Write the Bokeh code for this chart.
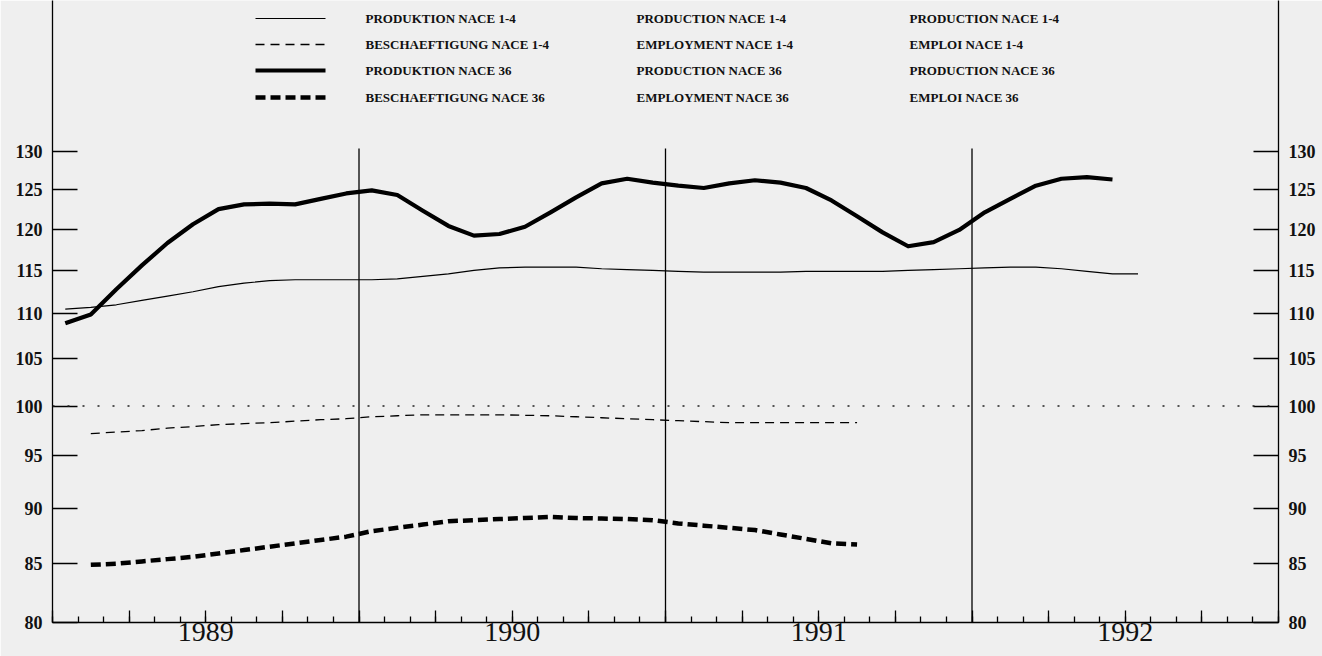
import math
from bokeh.plotting import figure
from bokeh.models import Range1d, LogAxis, FixedTicker, CustomJSTickFormatter, PrintfTickFormatter, Span
from bokeh.core.properties import value
from bokeh.embed import file_html
from bokeh.resources import INLINE

# ---------------- data (monthly index values) ----------------
prod14_start = (1989, 1)   # PRODUKTION NACE 1-4
prod14 = [110.5, 110.7, 111.0, 111.5, 112.0, 112.5, 113.1, 113.5, 113.8, 113.9, 113.9, 113.9,
          113.9, 114.0, 114.3, 114.6, 115.0, 115.3, 115.4, 115.4, 115.4, 115.2, 115.1, 115.0,
          114.9, 114.8, 114.8, 114.8, 114.8, 114.9, 114.9, 114.9, 114.9, 115.0, 115.1, 115.2,
          115.3, 115.4, 115.4, 115.2, 114.9, 114.6, 114.6]

prod36_start = (1989, 1)   # PRODUKTION NACE 36
prod36 = [108.9, 109.9, 112.8, 115.6, 118.3, 120.6, 122.5, 123.1, 123.2, 123.1, 123.8, 124.5,
          124.9, 124.3, 122.3, 120.4, 119.2, 119.4, 120.3, 122.1, 124.0, 125.8, 126.4, 125.9,
          125.5, 125.2, 125.8, 126.2, 125.9, 125.2, 123.6, 121.6, 119.6, 117.9, 118.4, 119.9,
          122.1, 123.8, 125.5, 126.4, 126.6, 126.3]

emp14_start = (1989, 2)    # BESCHAEFTIGUNG NACE 1-4
emp14 = [97.2, 97.35, 97.5, 97.75, 97.9, 98.1, 98.2, 98.3, 98.45, 98.6, 98.7,
         98.9, 99.0, 99.1, 99.1, 99.1, 99.1, 99.05, 99.0, 98.9, 98.8, 98.7, 98.6,
         98.5, 98.4, 98.3, 98.3, 98.3, 98.3, 98.3, 98.3]

emp36_start = (1989, 2)    # BESCHAEFTIGUNG NACE 36
emp36 = [84.9, 85.0, 85.2, 85.4, 85.6, 85.9, 86.2, 86.5, 86.8, 87.1, 87.4,
         87.9, 88.2, 88.5, 88.8, 88.9, 89.0, 89.1, 89.2, 89.1, 89.05, 89.0, 88.9,
         88.6, 88.4, 88.2, 88.0, 87.6, 87.2, 86.8, 86.7]

years = [1989, 1990, 1991, 1992]
year_lines = [1990, 1991, 1992]
y_ticks = [80, 85, 90, 95, 100, 105, 110, 115, 120, 125, 130]

legend_de = ["PRODUKTION NACE 1-4", "BESCHAEFTIGUNG NACE 1-4", "PRODUKTION NACE 36", "BESCHAEFTIGUNG NACE 36"]
legend_en = ["PRODUCTION NACE 1-4", "EMPLOYMENT NACE 1-4", "PRODUCTION NACE 36", "EMPLOYMENT NACE 36"]
legend_fr = ["PRODUCTION NACE 1-4", "EMPLOI NACE 1-4", "PRODUCTION NACE 36", "EMPLOI NACE 36"]


def month_x(start, n):
    y, m = start
    return [y + (m - 1 + i + 0.5) / 12.0 for i in range(n)]


# ---------------- layout ----------------
W, H = 1322, 656
BL, BR, BT, BB = 52, 44, 0, 34
FRAME_H = H - BT - BB
FRAME_W = W - BL - BR
PX_PER_LN = (FRAME_H - 151) / math.log(130 / 80)
Y_TOP = 80 * math.exp(FRAME_H / PX_PER_LN)


def y_at(px_from_top):
    return 80 * math.exp((FRAME_H - px_from_top) / PX_PER_LN)


def px_to_x(px):
    return years[0] + (px - BL) / (FRAME_W / 4.0)


BG = "#efefef"
p = figure(width=W, height=H, x_range=Range1d(years[0], years[-1] + 1), y_range=Range1d(80, Y_TOP),
           y_axis_type="log", output_backend="svg", toolbar_location=None,
           min_border_left=BL, min_border_right=BR, min_border_top=BT, min_border_bottom=BB,
           background_fill_color=BG, border_fill_color=BG, outline_line_color=None)
p.grid.visible = False

# bottom axis: quarterly and monthly ticks, year labels at mid-year
quarters = [y + q / 4 for y in range(years[0], years[-1] + 1) for q in range(4)] + [years[-1] + 1]
months = [y + mm / 12 for y in range(years[0], years[-1] + 1) for mm in range(12)] + [years[-1] + 1]
xa = p.xaxis[0]
xa.ticker = FixedTicker(ticks=quarters, minor_ticks=months)
xa.formatter = CustomJSTickFormatter(code="return (Math.abs(tick % 1 - 0.5) < 1e-6) ? String(Math.floor(tick)) : '';")
xa.major_tick_in = 12
xa.major_tick_out = 0
xa.minor_tick_in = 6
xa.minor_tick_out = 0
xa.major_label_standoff = 0
xa.major_label_text_font = "Liberation Serif"
xa.major_label_text_font_size = "28px"
xa.major_label_text_color = "#111111"
xa.axis_line_color = "black"
xa.axis_line_width = 1.3
xa.major_tick_line_width = 1.3
xa.minor_tick_line_width = 1.3


def style_y(ax, standoff):
    ax.ticker = FixedTicker(ticks=y_ticks, minor_ticks=[])
    ax.formatter = PrintfTickFormatter(format="%d")
    ax.major_tick_in = 25
    ax.major_tick_out = 0
    ax.minor_tick_in = 0
    ax.minor_tick_out = 0
    ax.major_label_standoff = standoff
    ax.major_label_text_font = "Liberation Serif"
    ax.major_label_text_font_style = "bold"
    ax.major_label_text_font_size = "18px"
    ax.major_label_text_color = "#111111"
    ax.axis_line_color = "black"
    ax.axis_line_width = 1.3
    ax.major_tick_line_width = 1.3


style_y(p.yaxis[0], 10)
right = LogAxis()
style_y(right, 10)
p.add_layout(right, "right")

# year separators and the 100 reference line
p.segment(x0=year_lines, y0=[80] * 3, x1=year_lines, y1=[y_at(148)] * 3, line_color="black", line_width=1.3)
p.add_layout(Span(location=100, dimension="width", line_color="#222222", line_width=1.6, line_dash="2 13"))

# series
p.line(month_x(prod14_start, len(prod14)), prod14, line_color="black", line_width=1.2)
p.line(month_x(emp14_start, len(emp14)), emp14, line_color="black", line_width=1.3, line_dash="9 6")
p.line(month_x(prod36_start, len(prod36)), prod36, line_color="black", line_width=4.2, line_join="round")
p.line(month_x(emp36_start, len(emp36)), emp36, line_color="black", line_width=4.5, line_dash="10 5")

# legend (drawn by hand: sample + three language columns)
row_px = [18, 44, 70, 97]
styles = [dict(line_width=1.2), dict(line_width=1.3, line_dash="9 6"),
          dict(line_width=4.2), dict(line_width=4.5, line_dash="10 5")]
for r, st in zip(row_px, styles):
    yy = y_at(r)
    p.line([px_to_x(255), px_to_x(325)], [yy, yy], line_color="black", **st)
for col_px, labels in zip([365, 636, 909], [legend_de, legend_en, legend_fr]):
    p.text(x=[px_to_x(col_px)] * 4, y=[y_at(r) for r in row_px], text=labels,
           text_font=value("Liberation Serif"), text_font_style="bold", text_font_size="13px",
           text_baseline="middle", text_align="left", text_color="#111111")

open("out.html", "w").write(file_html(p, INLINE))
